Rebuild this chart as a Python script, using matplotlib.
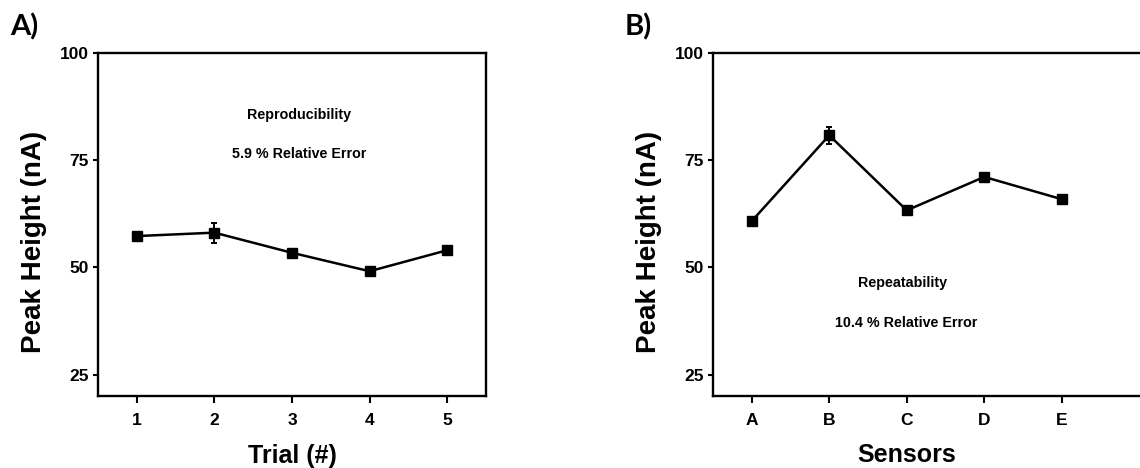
import matplotlib
matplotlib.use("Agg")
import matplotlib.pyplot as plt

# panel A: reproducibility over trials
trials = [1, 2, 3, 4, 5]
trial_peak = [57.3, 58.1, 53.4, 49.1, 54.0]
trial_err = [0.7, 2.3, 1.0, 0.8, 0.6]

# panel B: repeatability across sensors
sensors = ["A", "B", "C", "D", "E"]
sensor_peak = [60.8, 80.8, 63.3, 71.1, 65.9]
sensor_err = [0.8, 2.0, 0.6, 0.6, 0.9]

yticks = [25, 50, 75, 100]

plt.rcParams['font.family'] = ['Liberation Sans', 'DejaVu Sans']
plt.rcParams['font.weight'] = 'bold'

fig = plt.figure(figsize=(11.4, 4.68), dpi=100)
axA = fig.add_axes([98/1140, 1-396/468, 388/1140, 343/468])
axB = fig.add_axes([713/1140, 1-396/468, 447/1140, 343/468])


def style(ax):
    for s in ax.spines.values():
        s.set_linewidth(1.7)
    ax.tick_params(axis='both', direction='out', width=1.5, labelsize=12.5)
    ax.tick_params(axis='x', length=5, pad=7)
    ax.tick_params(axis='y', length=3.5, pad=3)
    ax.set_ylim(20, 100)
    ax.set_yticks(yticks)
    for lab in ax.get_xticklabels() + ax.get_yticklabels():
        lab.set_fontweight('bold')
    ax.set_ylabel("Peak Height (nA)", fontsize=20, fontweight='bold', labelpad=9)
    ax.yaxis.label.set_y(0.45)


axA.errorbar(trials, trial_peak, yerr=trial_err, color='black', lw=1.8,
             marker='s', ms=6.5, capsize=2.5, elinewidth=1.4, capthick=1.4)
axA.set_xlim(0.5, 5.5)
axA.set_xticks(trials)
style(axA)
axA.set_xlabel("Trial (#)", fontsize=18, fontweight='bold', labelpad=12)
axA.text(3.09, 85.5, "Reproducibility", ha='center', va='center', fontsize=10.3, fontweight='bold')
axA.text(3.09, 76.4, "5.9 % Relative Error", ha='center', va='center', fontsize=10.3, fontweight='bold')

xs = list(range(1, len(sensors) + 1))
xmaxB = 0.5 + 447/77.5
axB.errorbar(xs, sensor_peak, yerr=sensor_err, color='black', lw=1.8,
             marker='s', ms=6.5, capsize=2.5, elinewidth=1.4, capthick=1.4)
axB.set_xlim(0.5, xmaxB)
axB.set_xticks(xs)
axB.set_xticklabels(sensors)
style(axB)
axB.set_xlabel("Sensors", fontsize=18, fontweight='bold', labelpad=11)
axB.xaxis.label.set_x((3 - 0.5) / (xmaxB - 0.5))
axB.text(2.94, 46.3, "Repeatability", ha='center', va='center', fontsize=10.3, fontweight='bold')
axB.text(2.99, 37.0, "10.4 % Relative Error", ha='center', va='center', fontsize=10.3, fontweight='bold')

fig.text(10/1140, 1-13/468, "A)", fontsize=21, fontweight='bold', family=['Lato', 'DejaVu Sans'], va='top')
fig.text(625/1140, 1-13/468, "B)", fontsize=21, fontweight='bold', family=['Lato', 'DejaVu Sans'], va='top')

fig.savefig("out.png", dpi=100)
